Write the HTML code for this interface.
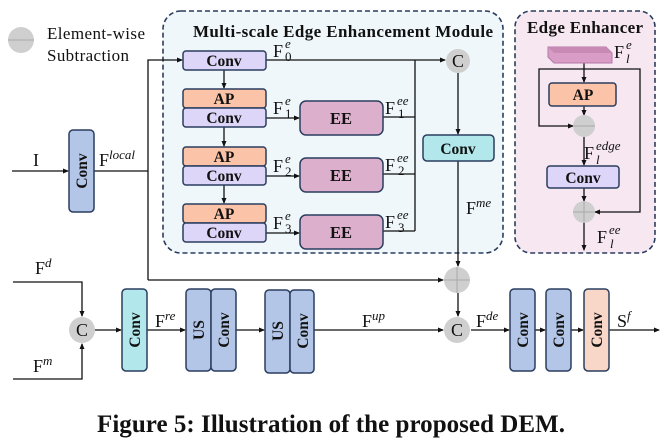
<!DOCTYPE html>
<html><head><meta charset="utf-8"><style>
html,body{margin:0;padding:0;background:#fff;}
svg{display:block;}
text{font-family:"Liberation Serif",serif;fill:#111;}
.b{font-weight:bold;}
.sup{font-size:13px;font-style:italic;}
</style></head><body>
<svg width="661" height="448" viewBox="0 0 661 448" xmlns="http://www.w3.org/2000/svg">
<defs>
<marker id="a" markerWidth="6" markerHeight="6" refX="5" refY="3" orient="auto" markerUnits="userSpaceOnUse"><path d="M0,0.5 L6,3 L0,5.5 z" fill="#111"/></marker>
</defs>
<circle cx="21" cy="40" r="13" fill="#cfcfcf"/>
<line x1="8" y1="40" x2="34" y2="40" stroke="#aaa" stroke-width="1"/>
<text x="47" y="39" font-size="17" textLength="98">Element-wise</text>
<text x="47" y="61" font-size="17" textLength="82">Subtraction</text>

<rect x="163" y="11" width="340" height="242" rx="18" fill="#eff7fa" stroke="#2b3d5e" stroke-width="1.6" stroke-dasharray="5,3"/>
<text x="193" y="37" font-size="17" class="b" textLength="300">Multi-scale Edge Enhancement Module</text>
<rect x="515" y="11" width="140" height="242" rx="16" fill="#f6e7f1" stroke="#2b3d5e" stroke-width="1.6" stroke-dasharray="5,3"/>
<text x="527" y="33" font-size="17" class="b" textLength="116">Edge Enhancer</text>

<g stroke="#111" stroke-width="1.3" fill="none">
<line x1="12" y1="171" x2="68" y2="171" marker-end="url(#a)"/>
<polyline points="94,171 148,171"/>
<polyline points="148,280 148,60 182,60" marker-end="url(#a)"/>
<line x1="148" y1="280" x2="443" y2="280" marker-end="url(#a)"/>
<line x1="224" y1="70" x2="224" y2="88" marker-end="url(#a)"/>
<line x1="224" y1="127" x2="224" y2="146" marker-end="url(#a)"/>
<line x1="224" y1="185" x2="224" y2="203" marker-end="url(#a)"/>
<line x1="266" y1="118" x2="299" y2="118" marker-end="url(#a)"/>
<line x1="266" y1="176" x2="299" y2="176" marker-end="url(#a)"/>
<line x1="266" y1="233" x2="299" y2="233" marker-end="url(#a)"/>
<line x1="266" y1="60" x2="445" y2="60" marker-end="url(#a)"/>
<line x1="383" y1="117" x2="415" y2="117"/>
<line x1="383" y1="174" x2="415" y2="174"/>
<line x1="383" y1="231" x2="415" y2="231"/>
<line x1="415" y1="60" x2="415" y2="231"/>
<line x1="458" y1="73" x2="458" y2="134" marker-end="url(#a)"/>
<line x1="458" y1="161" x2="458" y2="266" marker-end="url(#a)"/>
<line x1="458" y1="293" x2="458" y2="316" marker-end="url(#a)"/>
<polyline points="13,282 82,282 82,316" marker-end="url(#a)"/>
<polyline points="13,379 82,379 82,344" marker-end="url(#a)"/>
<line x1="95" y1="330" x2="121" y2="330" marker-end="url(#a)"/>
<line x1="147" y1="330" x2="185" y2="330" marker-end="url(#a)"/>
<line x1="236" y1="330" x2="264" y2="330" marker-end="url(#a)"/>
<line x1="314" y1="330" x2="443" y2="330" marker-end="url(#a)"/>
<line x1="471" y1="330" x2="509" y2="330" marker-end="url(#a)"/>
<line x1="535" y1="330" x2="545" y2="330" marker-end="url(#a)"/>
<line x1="571" y1="330" x2="583" y2="330" marker-end="url(#a)"/>
<line x1="609" y1="330" x2="659" y2="330" marker-end="url(#a)"/>
<line x1="584" y1="63" x2="584" y2="82" marker-end="url(#a)"/>
<polyline points="584,69 539,69 539,126 573,126" marker-end="url(#a)"/>
<polyline points="584,69 640,69 640,212 595,212" marker-end="url(#a)"/>
<line x1="584" y1="106" x2="584" y2="115" marker-end="url(#a)"/>
<line x1="584" y1="137" x2="584" y2="165" marker-end="url(#a)"/>
<line x1="584" y1="188" x2="584" y2="201" marker-end="url(#a)"/>
<line x1="584" y1="223" x2="584" y2="250" marker-end="url(#a)"/>
</g>

<g stroke="#2b3d5e" stroke-width="1.5">
<rect x="69" y="130" width="25" height="82" rx="4" fill="#b3c6e8"/>
<rect x="183" y="51" width="83" height="19" rx="3" fill="#ddd6f8"/>
<rect x="183" y="89" width="83" height="19" rx="3" fill="#fbc3a8"/>
<rect x="183" y="108" width="83" height="19" rx="3" fill="#ddd6f8"/>
<rect x="183" y="147" width="83" height="19" rx="3" fill="#fbc3a8"/>
<rect x="183" y="166" width="83" height="19" rx="3" fill="#ddd6f8"/>
<rect x="183" y="204" width="83" height="19" rx="3" fill="#fbc3a8"/>
<rect x="183" y="223" width="83" height="19" rx="3" fill="#ddd6f8"/>
<rect x="300" y="101" width="83" height="34" rx="6" fill="#dcb0cc"/>
<rect x="300" y="158" width="83" height="34" rx="6" fill="#dcb0cc"/>
<rect x="300" y="215" width="83" height="34" rx="6" fill="#dcb0cc"/>
<rect x="423" y="135" width="71" height="26" rx="4" fill="#b2e8ec"/>
<rect x="549" y="83" width="67" height="23" rx="3" fill="#fbc3a8"/>
<rect x="547" y="166" width="72" height="22" rx="3" fill="#ddd6f8"/>
<rect x="122" y="289" width="25" height="82" rx="4" fill="#b2e8ec"/>
<rect x="186" y="289" width="25" height="82" rx="4" fill="#b3c6e8"/>
<rect x="211" y="289" width="25" height="82" rx="4" fill="#b3c6e8"/>
<rect x="265" y="290" width="25" height="83" rx="4" fill="#b3c6e8"/>
<rect x="290" y="290" width="24" height="83" rx="4" fill="#b3c6e8"/>
<rect x="510" y="289" width="25" height="82" rx="4" fill="#b3c6e8"/>
<rect x="546" y="289" width="25" height="82" rx="4" fill="#b3c6e8"/>
<rect x="584" y="289" width="25" height="82" rx="4" fill="#f8d6c8"/>
</g>
<polygon points="548,47 606,47 612,53 612,63 554,63 548,57" fill="#d99cc6" stroke="#b27aa8" stroke-width="1"/>
<polygon points="548,47 606,47 612,53 554,53" fill="#c88ab5"/>

<circle cx="458" cy="61" r="12" fill="#cfcfcf"/><text x="458" y="67" font-size="18" text-anchor="middle">C</text>
<circle cx="457" cy="280" r="13" fill="#cfcfcf"/>
<line x1="444" y1="280" x2="470" y2="280" stroke="#aaa"/><line x1="457" y1="267" x2="457" y2="293" stroke="#aaa"/>
<circle cx="457" cy="330" r="13" fill="#cfcfcf"/><text x="457" y="336" font-size="18" text-anchor="middle">C</text>
<circle cx="82" cy="330" r="13" fill="#cfcfcf"/><text x="82" y="336" font-size="18" text-anchor="middle">C</text>
<circle cx="584" cy="126" r="11" fill="#cfcfcf"/><line x1="573" y1="126" x2="595" y2="126" stroke="#aaa"/>
<circle cx="584" cy="212" r="11" fill="#cfcfcf"/>
<line x1="573" y1="212" x2="595" y2="212" stroke="#aaa"/><line x1="584" y1="201" x2="584" y2="223" stroke="#aaa"/>

<g font-size="15.5">
<text x="224" y="66" text-anchor="middle" class="b">Conv</text>
<text x="224" y="104" text-anchor="middle" class="b">AP</text>
<text x="224" y="123" text-anchor="middle" class="b">Conv</text>
<text x="224" y="162" text-anchor="middle" class="b">AP</text>
<text x="224" y="181" text-anchor="middle" class="b">Conv</text>
<text x="224" y="219" text-anchor="middle" class="b">AP</text>
<text x="224" y="238" text-anchor="middle" class="b">Conv</text>
<text x="341" y="124" text-anchor="middle" class="b" font-size="16.5">EE</text>
<text x="341" y="181" text-anchor="middle" class="b" font-size="16.5">EE</text>
<text x="341" y="238" text-anchor="middle" class="b" font-size="16.5">EE</text>
<text x="458" y="154" text-anchor="middle" class="b">Conv</text>
<text x="583" y="100" text-anchor="middle" class="b">AP</text>
<text x="583" y="183" text-anchor="middle" class="b">Conv</text>
</g>
<g font-size="15.5">
<text transform="translate(87,171) rotate(-90)" text-anchor="middle" class="b">Conv</text>
<text transform="translate(140,330) rotate(-90)" text-anchor="middle" class="b">Conv</text>
<text transform="translate(204,330) rotate(-90)" text-anchor="middle" class="b">US</text>
<text transform="translate(229,330) rotate(-90)" text-anchor="middle" class="b">Conv</text>
<text transform="translate(283,331) rotate(-90)" text-anchor="middle" class="b">US</text>
<text transform="translate(308,331) rotate(-90)" text-anchor="middle" class="b">Conv</text>
<text transform="translate(528,330) rotate(-90)" text-anchor="middle" class="b">Conv</text>
<text transform="translate(564,330) rotate(-90)" text-anchor="middle" class="b">Conv</text>
<text transform="translate(602,330) rotate(-90)" text-anchor="middle" class="b">Conv</text>
</g>

<g font-size="18">
<text x="33" y="166">I</text>
<text x="99" y="166">F<tspan class="sup" dy="-7">local</tspan></text>
<text x="273" y="57">F</text><text x="285" y="48" class="sup">e</text><text x="285" y="61" font-size="13">0</text>
<text x="273" y="114">F</text><text x="285" y="105" class="sup">e</text><text x="285" y="118" font-size="13">1</text>
<text x="273" y="172">F</text><text x="285" y="163" class="sup">e</text><text x="285" y="176" font-size="13">2</text>
<text x="273" y="229">F</text><text x="285" y="220" class="sup">e</text><text x="285" y="233" font-size="13">3</text>
<text x="385" y="114">F</text><text x="397" y="105" class="sup">ee</text><text x="398" y="118" font-size="13">1</text>
<text x="385" y="171">F</text><text x="397" y="162" class="sup">ee</text><text x="398" y="175" font-size="13">2</text>
<text x="385" y="228">F</text><text x="397" y="219" class="sup">ee</text><text x="398" y="232" font-size="13">3</text>
<text x="466" y="214">F<tspan class="sup" dy="-7">me</tspan></text>
<text x="614" y="58">F</text><text x="626" y="49" class="sup">e</text><text x="626" y="63" class="sup">l</text>
<text x="584" y="159">F</text><text x="596" y="150" class="sup">edge</text><text x="596" y="164" class="sup">l</text>
<text x="597" y="243">F</text><text x="609" y="234" class="sup">ee</text><text x="610" y="248" class="sup">l</text>
<text x="35" y="274">F<tspan class="sup" dy="-7">d</tspan></text>
<text x="33" y="372">F<tspan class="sup" dy="-7">m</tspan></text>
<text x="155" y="327">F<tspan class="sup" dy="-7">re</tspan></text>
<text x="362" y="327">F<tspan class="sup" dy="-7">up</tspan></text>
<text x="476" y="327">F<tspan class="sup" dy="-7">de</tspan></text>
<text x="617" y="327">S<tspan class="sup" dy="-7">f</tspan></text>
</g>

<text x="97" y="432" font-size="25" class="b" textLength="468">Figure 5: Illustration of the proposed DEM.</text>
</svg>
</body></html>
